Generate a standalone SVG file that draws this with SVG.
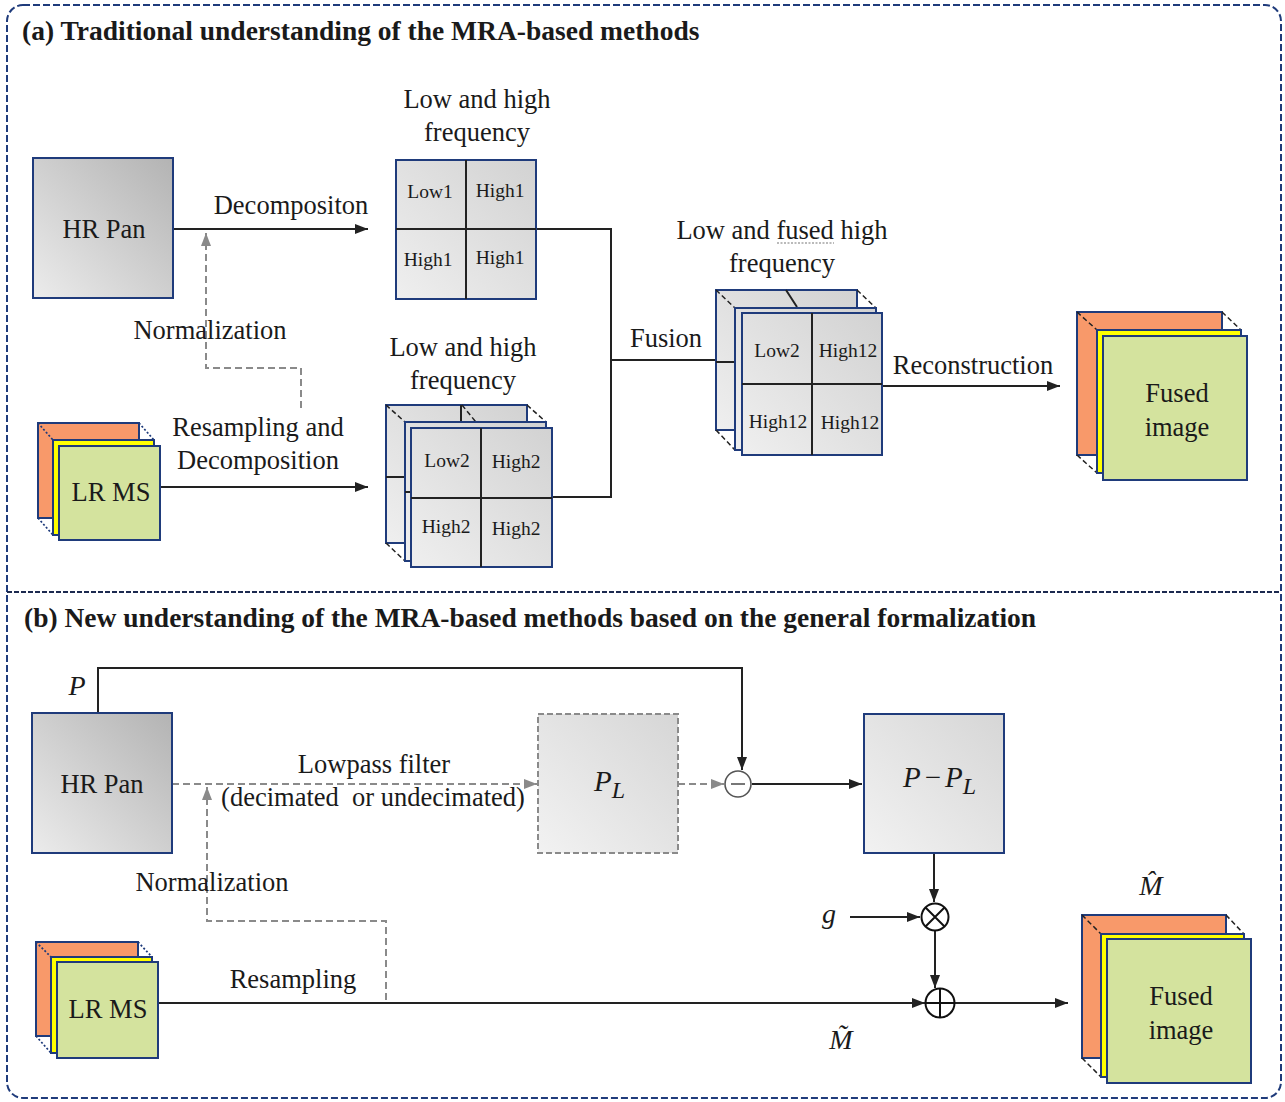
<svg xmlns="http://www.w3.org/2000/svg" width="1285" height="1102" viewBox="0 0 1285 1102">
<defs>
<linearGradient id="gBox" x1="0" y1="1" x2="1" y2="0"><stop offset="0" stop-color="#ececec"/><stop offset="1" stop-color="#b3b3b3"/></linearGradient>
<linearGradient id="gCell" x1="0" y1="1" x2="1" y2="0"><stop offset="0" stop-color="#efefef"/><stop offset="1" stop-color="#d2d2d2"/></linearGradient>
<linearGradient id="gLight" x1="0" y1="1" x2="1" y2="0"><stop offset="0" stop-color="#f2f2f2"/><stop offset="1" stop-color="#d6d6d6"/></linearGradient>
<marker id="ah" markerUnits="userSpaceOnUse" markerWidth="14" markerHeight="12" refX="13" refY="5" orient="auto"><path d="M0,0 L13,5 L0,10 z" fill="#222"/></marker>
<marker id="ahg" markerUnits="userSpaceOnUse" markerWidth="14" markerHeight="12" refX="13" refY="5" orient="auto"><path d="M0,0 L13,5 L0,10 z" fill="#8a8a8a"/></marker>
</defs>
<style>
text{font-family:"Liberation Serif","Times New Roman",serif;fill:#1a1a1a;}
.t{font-size:26.5px;text-anchor:middle;}
.title{font-size:27.5px;font-weight:bold;}
.c{font-size:19.5px;text-anchor:middle;}
.i{font-style:italic;}
.nav{stroke:#1f3b7b;stroke-width:2;}
.ln{fill:none;stroke:#222;stroke-width:2;}
.gl{fill:none;stroke:#222;stroke-width:2;}
.dl{fill:none;stroke:#222;stroke-width:1.5;stroke-dasharray:5,3;}
.dt{fill:none;stroke:#1f3b7b;stroke-width:1.8;stroke-dasharray:2,2;}
.gd{fill:none;stroke:#8a8a8a;stroke-width:2;stroke-dasharray:7,4;}
.or{fill:#f8996a;}
.ye{fill:#ffff00;}
.gr{fill:#d4e39e;}
</style>

<g id="frame">
<rect x="7" y="5" width="1274" height="1093" rx="16" fill="none" stroke="#1f3b7b" stroke-width="2" stroke-dasharray="7,3"/>
<line x1="7" y1="592" x2="1281" y2="592" stroke="#1c2a50" stroke-width="2" stroke-dasharray="5,2"/>
<text class="title" x="22" y="40">(a) Traditional understanding of the MRA-based methods</text>
<text class="title" x="24" y="627">(b) New understanding of the MRA-based methods based on the general formalization</text>
</g>

<g id="connectors">
<path class="ln" d="M173,229 H368" marker-end="url(#ah)"/>
<path class="gd" d="M301,408 V368 H206 V233" marker-end="url(#ahg)"/>
<path class="ln" d="M160,487 H368" marker-end="url(#ah)"/>
<path class="ln" d="M536,229 H611 V497 H552"/>
<path class="ln" d="M611,360 H716"/>
<path class="ln" d="M882,386 H1060" marker-end="url(#ah)"/>

<path class="ln" d="M98,713 V668 H742 V770" marker-end="url(#ah)"/>
<path class="gd" d="M172,784 H537" marker-end="url(#ahg)"/>
<path class="gd" d="M678,784 H724" marker-end="url(#ahg)"/>
<path class="ln" d="M752,784 H862" marker-end="url(#ah)"/>
<path class="gd" d="M386,1000 V921 H207 V787" marker-end="url(#ahg)"/>
<path class="ln" d="M934,853 V902" marker-end="url(#ah)"/>
<path class="ln" d="M850,917 H920" marker-end="url(#ah)"/>
<path class="ln" d="M935,931 V988" marker-end="url(#ah)"/>
<path class="ln" d="M158,1003 H925" marker-end="url(#ah)"/>
<path class="ln" d="M955,1003 H1068" marker-end="url(#ah)"/>
</g>

<g id="labels">
<text class="t" x="291" y="214">Decompositon</text>
<text class="t" x="210" y="339">Normalization</text>
<text class="t" x="258" y="436">Resampling and</text>
<text class="t" x="258" y="469">Decomposition</text>
<text class="t" x="477" y="108">Low and high</text>
<text class="t" x="477" y="141">frequency</text>
<text class="t" x="463" y="356">Low and high</text>
<text class="t" x="463" y="389">frequency</text>
<text class="t" x="782" y="239">Low and fused high</text>
<path d="M777,243 H834" fill="none" stroke="#777" stroke-width="1.2" stroke-dasharray="2,1.5"/>
<text class="t" x="782" y="272">frequency</text>
<text class="t" x="666" y="347">Fusion</text>
<text class="t" x="973" y="374">Reconstruction</text>

<text class="t" x="374" y="773">Lowpass filter</text>
<text class="t" x="373" y="806" xml:space="preserve">(decimated  or undecimated)</text>
<text class="t" x="212" y="891">Normalization</text>
<text class="t" x="293" y="988">Resampling</text>
<text class="t i" x="77" y="695" style="font-size:28px">P</text>
<text class="t i" x="829" y="923" style="font-size:28px">g</text>
<text class="t i" x="841" y="1049" style="font-size:28px">M&#771;</text>
<text class="t i" x="1151" y="895" style="font-size:28px">M&#770;</text>
</g>

<g id="hrpan-a">
<rect x="33" y="158" width="140" height="140" fill="url(#gBox)" class="nav"/>
<text class="t" x="104" y="238">HR Pan</text>
</g>

<g id="lrms-a">
<rect x="38" y="423" width="101" height="95" class="or nav"/>
<path class="dt" d="M38,423 L53,440 M139,423 L154,440 M38,518 L53,535"/>
<rect x="53" y="440" width="101" height="95" class="ye nav"/>
<rect x="59" y="446" width="101" height="94" class="gr nav"/>
<text class="t" x="111" y="501">LR MS</text>
</g>

<g id="freq-pan">
<rect x="396" y="160" width="140" height="139" fill="url(#gCell)" class="nav"/>
<path class="gl" d="M466,160 V299 M396,229 H536"/>
<text class="c" x="430" y="198">Low1</text>
<text class="c" x="500" y="197">High1</text>
<text class="c" x="428" y="266">High1</text>
<text class="c" x="500" y="264">High1</text>
</g>

<g id="freq-ms">
<rect x="386" y="405" width="141" height="138" fill="url(#gCell)" class="nav"/>
<path class="gl" d="M461,405 V422 M386,477 H405"/>
<path class="dl" d="M386,405 L405,422 M527,405 L546,422 M386,543 L405,561 M462,405 L480,427"/>
<rect x="405" y="422" width="141" height="139" fill="url(#gCell)" class="nav"/>
<path class="gl" d="M405,492 H411"/>
<rect x="411" y="428" width="141" height="139" fill="url(#gCell)" class="nav"/>
<path class="gl" d="M481,428 V567 M411,498 H552"/>
<text class="c" x="447" y="467">Low2</text>
<text class="c" x="516" y="468">High2</text>
<text class="c" x="446" y="533">High2</text>
<text class="c" x="516" y="535">High2</text>
</g>

<g id="freq-fused">
<rect x="716" y="290" width="141" height="140" fill="url(#gCell)" class="nav"/>
<path class="gl" d="M786,290 L797,307 M716,362 H735"/>
<path class="dl" d="M716,290 L735,308 M857,290 L876,308 M716,430 L735,450"/>
<rect x="735" y="308" width="141" height="142" fill="url(#gCell)" class="nav"/>
<rect x="742" y="313" width="140" height="142" fill="url(#gCell)" class="nav"/>
<path class="gl" d="M812,313 V455 M742,384 H882"/>
<text class="c" x="777" y="357">Low2</text>
<text class="c" x="848" y="357">High12</text>
<text class="c" x="778" y="428">High12</text>
<text class="c" x="850" y="429">High12</text>
</g>

<g id="fused-a">
<rect x="1077" y="312" width="145" height="143" class="or nav"/>
<path class="dl" d="M1077,312 L1097,330 M1222,312 L1241,330 M1077,455 L1097,473"/>
<rect x="1097" y="330" width="144" height="143" class="ye nav"/>
<rect x="1103" y="336" width="144" height="144" class="gr nav"/>
<text class="t" x="1177" y="402">Fused</text>
<text class="t" x="1177" y="436">image</text>
</g>

<g id="hrpan-b">
<rect x="32" y="713" width="140" height="140" fill="url(#gBox)" class="nav"/>
<text class="t" x="102" y="793">HR Pan</text>
</g>

<g id="pl-b">
<rect x="538" y="714" width="140" height="139" fill="url(#gLight)" stroke="#8a8a8a" stroke-width="2" stroke-dasharray="6,3"/>
<text class="i" x="594" y="791" style="font-size:29px">P<tspan dy="7" style="font-size:24px">L</tspan></text>
</g>

<g id="minus-b">
<circle cx="738" cy="784" r="13" fill="#fff" stroke="#555" stroke-width="1.6"/>
<path d="M731,784 H745" stroke="#555" stroke-width="1.6"/>
</g>

<g id="diff-b">
<rect x="864" y="714" width="140" height="139" fill="url(#gLight)" class="nav"/>
<text x="903" y="787" style="font-size:29px"><tspan class="i">P</tspan><tspan dx="4">−</tspan><tspan class="i" dx="4">P</tspan><tspan class="i" dy="7" style="font-size:24px">L</tspan></text>
</g>

<g id="mult-b">
<circle cx="935" cy="917" r="13.5" fill="#fff" stroke="#111" stroke-width="2"/>
<path d="M925.5,907.5 L944.5,926.5 M944.5,907.5 L925.5,926.5" stroke="#111" stroke-width="2"/>
</g>

<g id="add-b">
<circle cx="940" cy="1003" r="14.5" fill="#fff" stroke="#111" stroke-width="2"/>
<path d="M925.5,1003 H954.5 M940,988.5 V1017.5" stroke="#111" stroke-width="2"/>
</g>

<g id="lrms-b">
<rect x="36" y="942" width="102" height="94" class="or nav"/>
<path class="dt" d="M36,942 L51,957 M138,942 L152,957 M36,1036 L51,1053"/>
<rect x="51" y="957" width="101" height="96" class="ye nav"/>
<rect x="57" y="962" width="101" height="96" class="gr nav"/>
<text class="t" x="108" y="1018">LR MS</text>
</g>

<g id="fused-b">
<rect x="1082" y="915" width="144" height="143" class="or nav"/>
<path class="dl" d="M1082,915 L1101,934 M1226,915 L1244,934 M1082,1058 L1101,1077"/>
<rect x="1101" y="934" width="143" height="143" class="ye nav"/>
<rect x="1107" y="939" width="144" height="144" class="gr nav"/>
<text class="t" x="1181" y="1005">Fused</text>
<text class="t" x="1181" y="1039">image</text>
</g>
</svg>
